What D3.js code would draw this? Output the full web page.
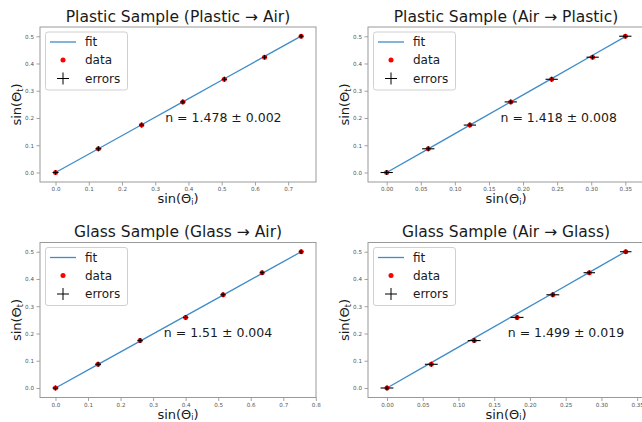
<!DOCTYPE html>
<html>
<head>
<meta charset="utf-8">
<script src="https://cdn.jsdelivr.net/npm/d3@7"></script>
<style>
body{margin:0;background:#fff;}
svg{display:block;}
text{font-family:"DejaVu Sans",sans-serif;}
</style>
</head>
<body>
<svg id="chart" width="642" height="422"></svg>
<script>

// sin(theta_t) is the same set of refracted angles in every run
var sinT    = [0, 0.087, 0.174, 0.259, 0.342, 0.423, 0.5];
var sinTErr = [0.009, 0.009, 0.009, 0.009, 0.009, 0.008, 0.008];

// sin(theta_i) per run
var plasticOutX    = [0, 0.129, 0.259, 0.383, 0.508, 0.629, 0.739];
var plasticOutXErr = [0.009, 0.009, 0.008, 0.008, 0.008, 0.007, 0.007];
var plasticInX     = [0, 0.061, 0.122, 0.182, 0.242, 0.302, 0.35];
var plasticInXErr  = [0.009, 0.009, 0.009, 0.009, 0.009, 0.009, 0.009];
var glassOutX      = [0, 0.131, 0.26, 0.40, 0.515, 0.635, 0.755];
var glassOutXErr   = [0.009, 0.009, 0.008, 0.008, 0.008, 0.007, 0.007];
var glassInX       = [0, 0.062, 0.122, 0.182, 0.232, 0.283, 0.334];
var glassInXErr    = [0.009, 0.009, 0.009, 0.009, 0.009, 0.008, 0.008];

var titles = ["Plastic Sample (Plastic \u2192 Air)", "Plastic Sample (Air \u2192 Plastic)",
              "Glass Sample (Glass \u2192 Air)", "Glass Sample (Air \u2192 Glass)"];
var fitSlopes = [0.677, 1.424, 0.662, 1.499];
var nLabels = ["n = 1.478 \u00b1 0.002", "n = 1.418 \u00b1 0.008",
               "n = 1.51 \u00b1 0.004", "n = 1.499 \u00b1 0.019"];
var nLabelAt = [[0.33, 0.185], [0.167, 0.185], [0.333, 0.187], [0.169, 0.187]];

var xTicks7  = [0, 0.1, 0.2, 0.3, 0.4, 0.5, 0.6, 0.7];
var xTicks8  = [0, 0.1, 0.2, 0.3, 0.4, 0.5, 0.6, 0.7, 0.8];
var xTicks35 = [0, 0.05, 0.1, 0.15, 0.2, 0.25, 0.3, 0.35];
var yTicks   = [0, 0.1, 0.2, 0.3, 0.4, 0.5];
var legendNames = ["fit", "data", "errors"];

var panels = [
    {x: plasticOutX, xerr: plasticOutXErr, ticks: xTicks7,  fmt: ".1f", left: 40,  top: 27},
    {x: plasticInX,  xerr: plasticInXErr,  ticks: xTicks35, fmt: ".2f", left: 368, top: 27},
    {x: glassOutX,   xerr: glassOutXErr,   ticks: xTicks8,  fmt: ".1f", left: 40,  top: 242.5},
    {x: glassInX,    xerr: glassInXErr,    ticks: xTicks35, fmt: ".2f", left: 368, top: 242.5}
];

var W = 276, H = 155;
var svg = d3.select("#chart");
svg.append("rect").attr("width", 642).attr("height", 422).attr("fill", "#fff");

// matplotlib-ish autoscale: data extent incl. error bars, 5% margin
function padded(lo, hi) {
    var m = (hi - lo) * 0.05;
    return [lo - m, hi + m];
}

panels.forEach(function (p, k) {
    var pts = p.x.map(function (v, i) {
        return {x: v, y: sinT[i], ex: p.xerr[i], ey: sinTErr[i]};
    });

    var xDom = padded(d3.min(pts, function (d) {return d.x - d.ex;}), d3.max(pts, function (d) {return d.x + d.ex;}));
    var yDom = padded(d3.min(pts, function (d) {return d.y - d.ey;}), d3.max(pts, function (d) {return d.y + d.ey;}));
    var x = d3.scaleLinear().domain(xDom).range([0, W]);
    var y = d3.scaleLinear().domain(yDom).range([H, 0]);

    var g = svg.append("g").attr("transform", "translate(" + p.left + "," + p.top + ")");

    //****** axes
    var xAxis = g.append("g").attr("transform", "translate(0," + H + ")")
        .call(d3.axisBottom(x).tickValues(p.ticks).tickFormat(d3.format(p.fmt)).tickSize(3.5).tickPadding(2));
    var yAxis = g.append("g")
        .call(d3.axisLeft(y).tickValues(yTicks).tickFormat(d3.format(".1f")).tickSize(3.5).tickPadding(2.5));
    [xAxis, yAxis].forEach(function (a) {
        a.select(".domain").remove();
        a.selectAll("line").attr("stroke", "#8a8a8a").attr("stroke-width", 0.8);
        a.selectAll("text").attr("fill", "#555").style("font-size", "5.6px")
            .style("font-family", "'DejaVu Sans', sans-serif");
    });

    g.append("rect").attr("width", W).attr("height", H)
        .attr("fill", "none").attr("stroke", "#999").attr("stroke-width", 1);

    //****** fit line
    var fitLine = d3.line()
        .x(function (d) {return x(d.x);})
        .y(function (d) {return y(fitSlopes[k] * d.x);});
    g.append("path").datum(pts).attr("d", fitLine)
        .attr("fill", "none").attr("stroke", "#3f8cc8").attr("stroke-width", 1.3);

    //****** data points
    g.selectAll("circle.pt").data(pts).enter().append("circle")
        .attr("class", "pt")
        .attr("cx", function (d) {return x(d.x);})
        .attr("cy", function (d) {return y(d.y);})
        .attr("r", 2.5).attr("fill", "#ff0000");

    //****** error bars
    var eb = g.selectAll("g.eb").data(pts).enter().append("g").attr("class", "eb")
        .attr("stroke", "#000").attr("stroke-width", 1.1);
    eb.append("line")
        .attr("x1", function (d) {return x(d.x - d.ex);})
        .attr("x2", function (d) {return x(d.x + d.ex);})
        .attr("y1", function (d) {return y(d.y);})
        .attr("y2", function (d) {return y(d.y);});
    eb.append("line")
        .attr("x1", function (d) {return x(d.x);})
        .attr("x2", function (d) {return x(d.x);})
        .attr("y1", function (d) {return y(d.y - d.ey);})
        .attr("y2", function (d) {return y(d.y + d.ey);});

    //****** n annotation
    g.append("text")
        .attr("x", x(nLabelAt[k][0])).attr("y", y(nLabelAt[k][1]))
        .attr("fill", "#1a1a1a").style("font-size", "12.5px")
        .text(nLabels[k]);

    //****** legend
    var lg = g.append("g").attr("transform", "translate(5.5,5)");
    lg.append("rect").attr("width", 82).attr("height", 58).attr("rx", 2.5)
        .attr("fill", "#fff").attr("fill-opacity", 0.85)
        .attr("stroke", "#d0d0d0").attr("stroke-width", 1);
    var rows = [10, 28, 46.5];
    lg.append("line").attr("x1", 4.5).attr("x2", 30.5).attr("y1", rows[0]).attr("y2", rows[0])
        .attr("stroke", "#3f8cc8").attr("stroke-width", 1.3);
    lg.append("circle").attr("cx", 17.5).attr("cy", rows[1]).attr("r", 2.5).attr("fill", "#ff0000");
    lg.append("line").attr("x1", 11.5).attr("x2", 23.5).attr("y1", rows[2]).attr("y2", rows[2])
        .attr("stroke", "#000").attr("stroke-width", 1);
    lg.append("line").attr("x1", 17.5).attr("x2", 17.5).attr("y1", rows[2] - 6).attr("y2", rows[2] + 6)
        .attr("stroke", "#000").attr("stroke-width", 1);
    lg.selectAll("text.lt").data(legendNames).enter().append("text")
        .attr("class", "lt")
        .attr("x", 39.5).attr("y", function (d, i) {return rows[i] + 4.4;})
        .attr("fill", "#1a1a1a").style("font-size", "12px")
        .text(function (d) {return d;});

    //****** title and axis labels
    g.append("text").attr("x", W / 2).attr("y", -5.5).attr("text-anchor", "middle")
        .attr("fill", "#1a1a1a").style("font-size", "15.5px").text(titles[k]);

    function sinLabel(sel, sub) {
        sel.append("tspan").text("sin(\u0398");
        sel.append("tspan").attr("dy", 1.8).style("font-size", "8px").text(sub);
        sel.append("tspan").attr("dy", -1.8).text(")");
    }
    g.append("text").attr("x", W / 2).attr("y", H + 21).attr("text-anchor", "middle")
        .attr("fill", "#1a1a1a").style("font-size", "13px").call(sinLabel, "i");
    g.append("text").attr("transform", "translate(-19," + (H / 2) + ") rotate(-90)")
        .attr("text-anchor", "middle")
        .attr("fill", "#1a1a1a").style("font-size", "13px").call(sinLabel, "t");
});

</script>
</body>
</html>
